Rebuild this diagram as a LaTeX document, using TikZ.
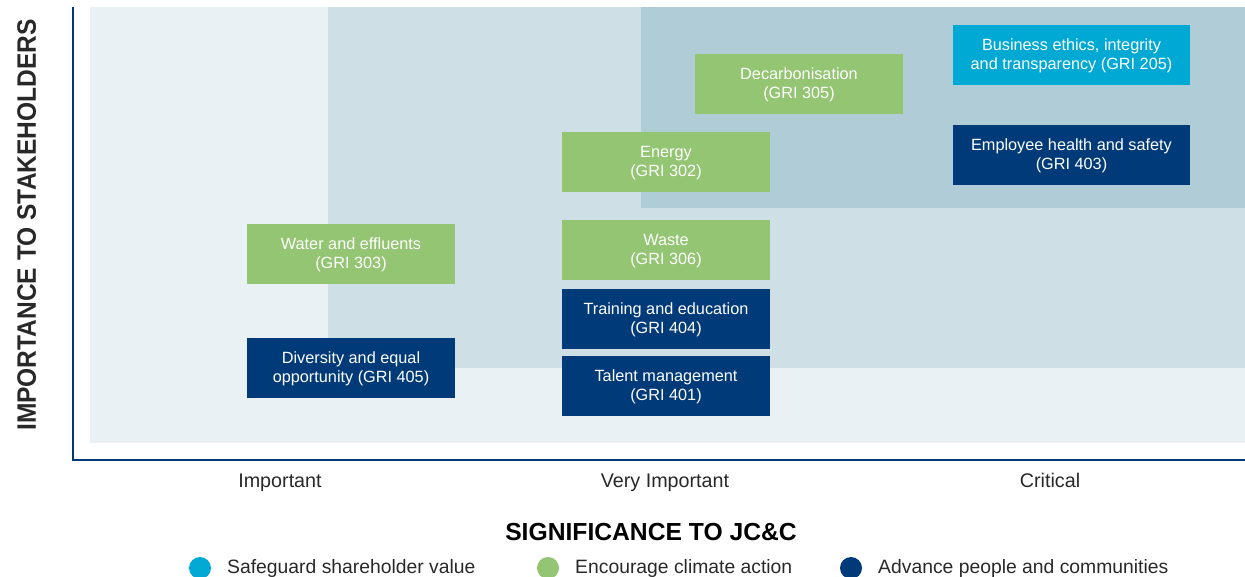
\documentclass[tikz,border=0pt]{standalone}
\usepackage{fontspec}
\setmainfont{Liberation Sans}
\newfontfamily\axisfont[FakeStretch=0.92]{Liberation Sans}
\usetikzlibrary{positioning}
\definecolor{zonelow}{RGB}{233,241,245}
\definecolor{zonemid}{RGB}{207,223,230}
\definecolor{zonehigh}{RGB}{176,205,215}
\definecolor{gricyan}{RGB}{0,169,212}
\definecolor{grigreen}{RGB}{147,197,114}
\definecolor{grinavy}{RGB}{0,58,120}
\definecolor{labelgrey}{RGB}{40,40,40}
\tikzset{
  topic/.style={inner sep=0.75pt, minimum width=156pt, minimum height=45pt, align=center,
    text=white, font=\fontsize{12.2}{14.4}\selectfont, text depth=1pt},
  widetopic/.style={topic, minimum width=177.75pt},
  level/.style={inner sep=0.75pt, anchor=base, text=labelgrey, font=\fontsize{14.8}{17}\selectfont},
  keytext/.style={inner sep=0.75pt, text=labelgrey, font=\fontsize{14.5}{17}\selectfont},
  keydot/.style={circle, inner sep=0pt, minimum size=16.5pt}
}

\begin{document}
\begin{tikzpicture}[x=0.75pt,y=0.75pt,yscale=-1,xscale=1]
\useasboundingbox (0,0) rectangle (1245,577);

%Shape: Rectangle - zones of the matrix
\fill [zonelow] (90,7) rectangle (1245,443);
\fill [zonemid] (328,7) rectangle (1245,368);
\fill [zonehigh] (641,7) rectangle (1245,208);

%Shape: Axes
\draw [grinavy, line width=0.9pt] (73,7) -- (73,460) -- (1245,460);

% Topic boxes
\node [widetopic, fill=gricyan] (ethics) at (1071.5,55) {Business ethics, integrity\\and transparency (GRI 205)};
\node [widetopic, fill=grinavy] (health) at (1071.5,155) {Employee health and safety\\(GRI 403)};
\node [topic, fill=grigreen] (decarb) at (799,84) {Decarbonisation\\(GRI 305)};
\node [topic, fill=grigreen] (energy) at (666,162) {Energy\\(GRI 302)};
\node [topic, fill=grigreen] (waste) at (666,250) {Waste\\(GRI 306)};
\node [topic, fill=grinavy] (training) at (666,318.5) {Training and education\\(GRI 404)};
\node [topic, fill=grinavy] (talent) at (666,385.5) {Talent management\\(GRI 401)};
\node [topic, fill=grigreen] (water) at (351,254) {Water and effluents\\(GRI 303)};
\node [topic, fill=grinavy] (diversity) at (351,368) {Diversity and equal\\opportunity (GRI 405)};

% Text Node
\node [inner sep=0.75pt, rotate=90, anchor=base, text=labelgrey, font=\axisfont\bfseries\fontsize{20}{22}\selectfont] (yaxis) at (36,225) {IMPORTANCE TO STAKEHOLDERS};

% Text Node
\node [level] (important) at (280,487) {Important};
\node [level] (veryimp) at (665,487) {Very Important};
\node [level] (critical) at (1050,487) {Critical};

% Text Node
\node [inner sep=0.75pt, anchor=base, text=black, font=\bfseries\fontsize{18.5}{20}\selectfont] (xaxis) at (651,540) {SIGNIFICANCE TO JC\&C};

% Legend
\node [keydot, fill=gricyan] (keyvalue) at (200,568) {};
\node [keytext, anchor=west, right=11pt of keyvalue] {Safeguard shareholder value};
\node [keydot, fill=grigreen] (keyclimate) at (548,568) {};
\node [keytext, anchor=west, right=11pt of keyclimate] {Encourage climate action};
\node [keydot, fill=grinavy] (keypeople) at (851,568) {};
\node [keytext, anchor=west, right=11pt of keypeople] {Advance people and communities};

\end{tikzpicture}
\end{document}
